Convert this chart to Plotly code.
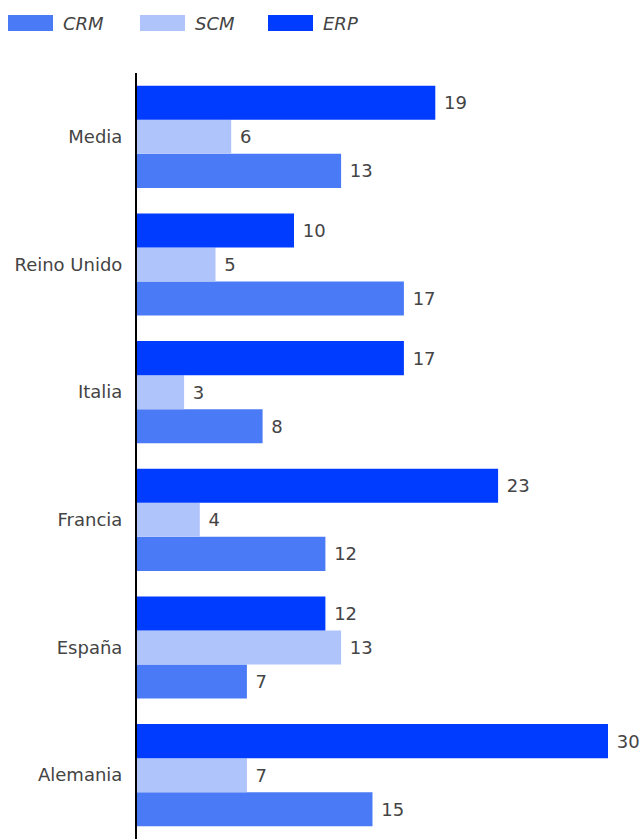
import plotly.graph_objects as go

# Categories listed bottom to top
paises = ["Alemania", "España", "Francia", "Italia", "Reino Unido", "Media"]
crm = [15, 7, 12, 8, 17, 13]
scm = [7, 13, 4, 3, 5, 6]
erp = [30, 12, 23, 17, 10, 19]

series = [
    ("CRM", crm, "#4a7af5"),
    ("SCM", scm, "#b0c4fc"),
    ("ERP", erp, "#003cff"),
]

FONT = "DejaVu Sans, sans-serif"
FS = 18
W, H = 643, 839
ML, MR, MT, MB = 137, 0, 73, 0
PX_PER_UNIT = 15.7

fig = go.Figure()
for name, vals, color in series:
    fig.add_trace(go.Bar(
        y=paises, x=vals, name=name, orientation="h",
        marker=dict(color=color, line=dict(width=0)),
        text=["\u00a0" + str(v) for v in vals],
        textposition="outside",
        textfont=dict(family=FONT, size=FS, color="#444444"),
        cliponaxis=False,
        showlegend=False,
    ))

plot_w = W - ML - MR
plot_h = H - MT - MB

fig.update_layout(
    width=W, height=H,
    margin=dict(l=ML, r=MR, t=MT, b=MB, pad=0),
    paper_bgcolor="white", plot_bgcolor="white",
    barmode="group", bargap=0.2, bargroupgap=0,
    font=dict(family=FONT, size=FS, color="#444444"),
    xaxis=dict(range=[0, plot_w / PX_PER_UNIT], visible=False, fixedrange=True),
    yaxis=dict(
        range=[-0.5, 5.5], showline=True, linecolor="black", linewidth=2,
        showgrid=False, zeroline=False, ticks="", ticklabelstandoff=9,
        tickfont=dict(family=FONT, size=FS, color="#444444"),
    ),
)

# Legend: wide colour swatches with italic names, laid out in a row
def px_x(x):
    return (x - ML) / plot_w

def px_y(y):
    return 1 + (MT - y) / plot_h

swatch_x = [8, 140, 268]
for (name, _, color), x0 in zip(series, swatch_x):
    fig.add_shape(
        type="rect", xref="paper", yref="paper",
        x0=px_x(x0), x1=px_x(x0 + 45), y0=px_y(31), y1=px_y(15),
        fillcolor=color, line=dict(width=0),
    )
    fig.add_annotation(
        xref="paper", yref="paper", x=px_x(x0 + 53), y=px_y(23),
        text=f"<i>{name}</i>", showarrow=False, xanchor="left", yanchor="middle",
        font=dict(family=FONT, size=FS, color="#444444"),
    )

fig.write_html("out.html")
